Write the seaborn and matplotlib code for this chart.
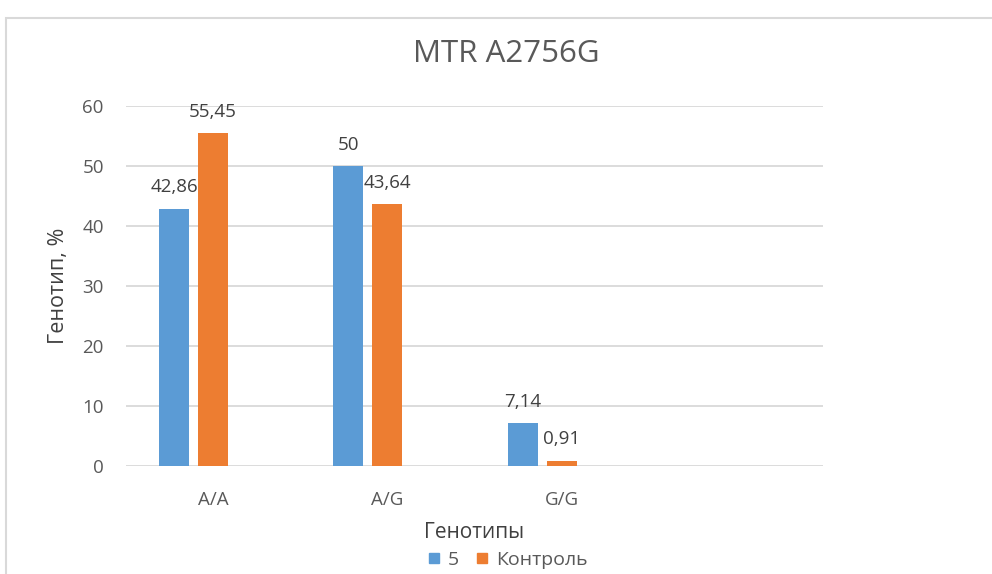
import matplotlib

matplotlib.use('Agg')
import matplotlib.pyplot as plt
import pandas as pd
import seaborn as sns
from matplotlib.lines import Line2D
from matplotlib.patches import Rectangle

genotypes = ['A/A', 'A/G', 'G/G']
group5 = [42.86, 50, 7.14]
control = [55.45, 43.64, 0.91]
series = ['5', 'Контроль']

BLUE = '#5B9BD5'
ORANGE = '#ED7D31'
GRID = '#D9D9D9'
TXT = '#595959'

rows = []
for g, a, b in zip(genotypes, group5, control):
    rows.append({'Генотипы': g, 'grp': series[0], 'val': a})
    rows.append({'Генотипы': g, 'grp': series[1], 'val': b})
data = pd.DataFrame(rows)

sns.set_style('white')
plt.rcParams['font.family'] = ['Open Sans', 'DejaVu Sans']

fig = plt.figure(figsize=(9.92, 5.74), dpi=100)
ax = fig.add_axes([126 / 992, 1 - 466 / 574, 697 / 992, 360 / 574])

# excel leaves a slot for a third (empty) series, so keep one here too
hue_order = series + ['_empty']
sns.barplot(data=data, x='Генотипы', y='val', hue='grp',
            hue_order=hue_order,
            palette={series[0]: BLUE, series[1]: ORANGE, '_empty': 'white'},
            width=0.671, gap=0.23, saturation=1, linewidth=0,
            ax=ax, legend=False)

for c in ax.containers:
    ax.bar_label(c, fmt=lambda v: f'{v:g}'.replace('.', ','), padding=9,
                 fontsize=13.5, color='#404040')

ax.set_xlim(-0.5, 3.5)
ax.set_ylim(0, 60)
ax.set_yticks(range(0, 61, 10))
ax.grid(axis='y', color=GRID, linewidth=1.3)
ax.set_axisbelow(True)
for s in ax.spines.values():
    s.set_visible(False)
ax.tick_params(axis='both', length=0, labelsize=13.5, labelcolor=TXT)
ax.tick_params(axis='x', pad=18)
ax.tick_params(axis='y', pad=16)

ax.set_xlabel('Генотипы', fontsize=15, color='#404040', labelpad=9)
ax.set_ylabel('Генотип, %', fontsize=15.5, color='#404040')
ax.yaxis.set_label_coords(-0.082, 0.5)

fig.text(506 / 992, 1 - 54 / 574, 'MTR A2756G', ha='center', va='center',
         fontsize=22.5, color=TXT)

handles = [Line2D([], [], marker='s', linestyle='', markersize=6.5, color=BLUE),
           Line2D([], [], marker='s', linestyle='', markersize=6.5, color=ORANGE)]
fig.legend(handles, series, loc='center', bbox_to_anchor=(507 / 992, 1 - 560 / 574),
           ncol=2, frameon=False, fontsize=14, handlelength=0.8,
           handletextpad=0.3, columnspacing=0.8, labelcolor=TXT,
           borderaxespad=0)

# chart-area border, partly cut off by the crop
fig.patches.append(Rectangle((6 / 992, -0.2), 1.2, 1.2 - 18 / 574,
                             transform=fig.transFigure, fill=False,
                             edgecolor=GRID, linewidth=1.5))

fig.savefig('out.png', dpi=100)
